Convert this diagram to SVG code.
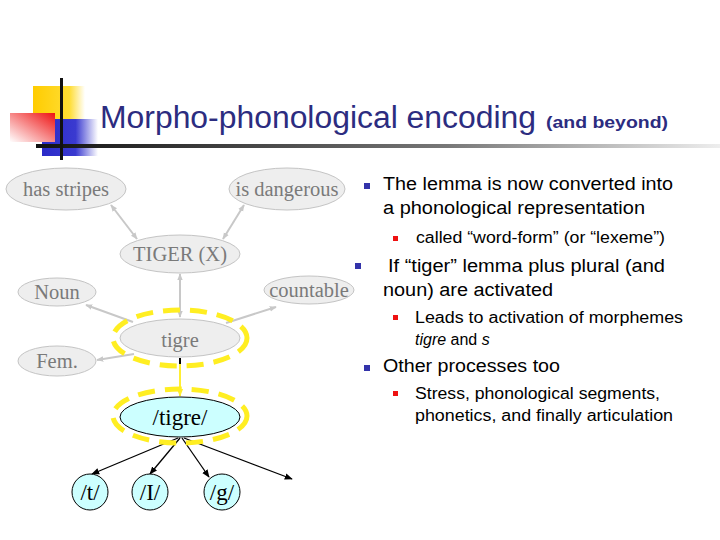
<svg xmlns="http://www.w3.org/2000/svg" width="720" height="540" viewBox="0 0 720 540">
<defs>
<linearGradient id="hl" x1="0" y1="0" x2="1" y2="0">
<stop offset="0" stop-color="#111"/>
<stop offset="0.6" stop-color="#777"/>
<stop offset="1" stop-color="#eee"/>
</linearGradient>
<linearGradient id="red" x1="1" y1="0" x2="0" y2="1">
<stop offset="0" stop-color="#ee1111"/>
<stop offset="1" stop-color="#ffffff"/>
</linearGradient>
<linearGradient id="blue" x1="0" y1="0" x2="1" y2="0">
<stop offset="0" stop-color="#2a2ac8"/>
<stop offset="0.6" stop-color="#3a3ad0"/>
<stop offset="1" stop-color="#ffffff"/>
</linearGradient>
<linearGradient id="yel" x1="0" y1="0" x2="1" y2="0">
<stop offset="0" stop-color="#ffcc00"/>
<stop offset="0.7" stop-color="#ffdd33"/>
<stop offset="1" stop-color="#ffffff"/>
</linearGradient>
<marker id="ga" viewBox="0 0 10 10" refX="9" refY="5" markerWidth="7" markerHeight="7" orient="auto-start-reverse" markerUnits="userSpaceOnUse">
<path d="M0,1 L10,5 L0,9 z" fill="#c8c8c8"/>
</marker>
<marker id="ba" viewBox="0 0 10 10" refX="9" refY="5" markerWidth="8" markerHeight="8" orient="auto-start-reverse" markerUnits="userSpaceOnUse">
<path d="M0,1 L10,5 L0,9 z" fill="#000"/>
</marker>
<marker id="ya" viewBox="0 0 10 10" refX="9" refY="5" markerWidth="8" markerHeight="8" orient="auto" markerUnits="userSpaceOnUse">
<path d="M0,1 L10,5 L0,9 z" fill="#ffee33"/>
</marker>
</defs>
<style>
.g{fill:#eeeeee;stroke:#c4c4c4;stroke-width:1}
.gt{font-family:"Liberation Serif",serif;font-size:20.5px;fill:#7a7a7a;text-anchor:middle}
.p{fill:#ccffff;stroke:#000;stroke-width:1}
.pt{font-family:"Liberation Serif",serif;font-size:23px;fill:#000;text-anchor:middle}
.yd{fill:none;stroke:#ffee22;stroke-width:5;stroke-dasharray:17 10}
.gc{stroke:#c8c8c8;stroke-width:2;fill:none}
.bc{stroke:#000;stroke-width:1.3;fill:none}
.b1{font-family:"Liberation Sans",sans-serif;font-size:18px;fill:#000}
.b2{font-family:"Liberation Sans",sans-serif;font-size:16px;fill:#000}
.bb{fill:#3333aa}
.rb{fill:#ee1111}
</style>
<rect width="720" height="540" fill="#fff"/>
<g id="decor">
<rect x="33" y="86" width="52" height="36" fill="url(#yel)"/>
<rect x="42" y="119" width="56" height="37" fill="url(#blue)"/>
<rect x="10" y="113" width="45" height="29" fill="url(#red)"/>
<rect x="36" y="144" width="684" height="4" fill="url(#hl)"/>
<rect x="60" y="78" width="3" height="82" fill="#111"/>
</g>
<g id="title">
<text x="100" y="128" font-family="Liberation Sans, sans-serif" font-size="31" fill="#2c2c80" textLength="436" lengthAdjust="spacingAndGlyphs">Morpho-phonological encoding</text>
<text x="546" y="128" font-family="Liberation Sans, sans-serif" font-size="16" font-weight="bold" fill="#2c2c80" textLength="122" lengthAdjust="spacingAndGlyphs">(and beyond)</text>
</g>
<g id="connectors">
<line class="gc" x1="111" y1="205" x2="137" y2="239" marker-start="url(#ga)" marker-end="url(#ga)"/>
<line class="gc" x1="244" y1="205" x2="223" y2="239" marker-start="url(#ga)" marker-end="url(#ga)"/>
<line class="gc" x1="180" y1="274" x2="180" y2="317" marker-start="url(#ga)" marker-end="url(#ga)"/>
<line class="gc" x1="133" y1="322" x2="86" y2="305" marker-end="url(#ga)"/>
<line class="gc" x1="226" y1="323" x2="276" y2="307" marker-end="url(#ga)"/>
<line class="gc" x1="134" y1="354" x2="97" y2="360" marker-end="url(#ga)"/>
<line x1="180" y1="364" x2="180" y2="396" stroke="#ffee33" stroke-width="2" marker-end="url(#ya)"/>
<line x1="180" y1="358" x2="180" y2="364" stroke="#000" stroke-width="2"/>
<line class="bc" x1="178" y1="438" x2="92" y2="474" marker-end="url(#ba)"/>
<line class="bc" x1="180" y1="438" x2="150" y2="474" marker-end="url(#ba)"/>
<line class="bc" x1="182" y1="438" x2="209" y2="477" marker-end="url(#ba)"/>
<line class="bc" x1="184" y1="438" x2="292" y2="479" marker-end="url(#ba)"/>
</g>
<g id="has-stripes"><ellipse class="g" cx="66" cy="189" rx="60" ry="21"/><text class="gt" x="66" y="196">has stripes</text></g>
<g id="is-dangerous"><ellipse class="g" cx="287" cy="189" rx="58" ry="21"/><text class="gt" x="287" y="196">is dangerous</text></g>
<g id="tiger"><ellipse class="g" cx="180" cy="254" rx="60" ry="19"/><text class="gt" x="180" y="261">TIGER (X)</text></g>
<g id="noun"><ellipse class="g" cx="57" cy="292" rx="39" ry="14"/><text class="gt" x="57" y="299">Noun</text></g>
<g id="countable"><ellipse class="g" cx="309" cy="290" rx="45" ry="14"/><text class="gt" x="309" y="297">countable</text></g>
<g id="tigre"><ellipse class="yd" cx="180" cy="338" rx="67" ry="28"/><ellipse class="g" cx="180" cy="338" rx="60" ry="19"/><text class="gt" x="180" y="347" font-size="24">tigre</text></g>
<g id="fem"><ellipse class="g" cx="57" cy="361" rx="39" ry="15"/><text class="gt" x="57" y="368">Fem.</text></g>
<g id="tigre-phon"><ellipse class="yd" cx="180" cy="416" rx="67" ry="27"/><ellipse class="p" cx="180" cy="417" rx="60" ry="20"/><text class="pt" x="180" y="425">/tigre/</text></g>
<g id="t"><circle class="p" cx="90" cy="492" r="18"/><text class="pt" x="90" y="500">/t/</text></g>
<g id="I"><circle class="p" cx="150" cy="492" r="18"/><text class="pt" x="150" y="500">/I/</text></g>
<g id="gg"><circle class="p" cx="222" cy="492" r="18"/><text class="pt" x="222" y="500">/g/</text></g>
<g id="bullets">
<rect class="bb" x="364" y="183" width="6" height="6"/>
<text class="b1" x="383" y="190" textLength="290" lengthAdjust="spacingAndGlyphs">The lemma is now converted into</text>
<text class="b1" x="383" y="214" textLength="262" lengthAdjust="spacingAndGlyphs">a phonological representation</text>
<rect class="rb" x="393" y="236" width="5" height="5"/>
<text class="b2" x="416" y="243" textLength="249" lengthAdjust="spacingAndGlyphs">called “word-form” (or “lexeme”)</text>
<rect class="bb" x="355" y="263" width="6" height="6"/>
<text class="b1" x="388" y="272" textLength="277" lengthAdjust="spacingAndGlyphs">If “tiger” lemma plus plural (and</text>
<text class="b1" x="383" y="296" textLength="170" lengthAdjust="spacingAndGlyphs">noun) are activated</text>
<rect class="rb" x="393" y="315" width="5" height="5"/>
<text class="b2" x="415" y="323" textLength="268" lengthAdjust="spacingAndGlyphs">Leads to activation of morphemes</text>
<text class="b2" x="415" y="345"><tspan font-style="italic">tigre</tspan> and <tspan font-style="italic">s</tspan></text>
<rect class="bb" x="364" y="365" width="6" height="6"/>
<text class="b1" x="383" y="372" textLength="177" lengthAdjust="spacingAndGlyphs">Other processes too</text>
<rect class="rb" x="393" y="391" width="5" height="5"/>
<text class="b2" x="415" y="399" textLength="245" lengthAdjust="spacingAndGlyphs">Stress, phonological segments,</text>
<text class="b2" x="415" y="421" textLength="258" lengthAdjust="spacingAndGlyphs">phonetics, and finally articulation</text>
</g>
</svg>
